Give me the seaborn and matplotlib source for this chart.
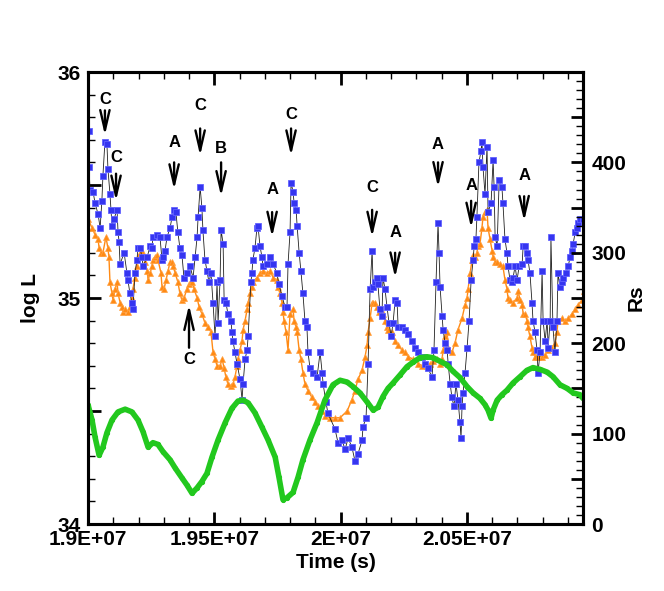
import numpy as np
import pandas as pd
import seaborn as sns
import matplotlib.pyplot as plt
from matplotlib.ticker import MultipleLocator, FuncFormatter

# Zeit in Einheiten von 1e7 s, log L (linke Achse)
blue_t = [1.9004, 1.9004, 1.9008, 1.9020, 1.9028, 1.9040, 1.9048, 1.9055, 1.9059, 1.9067,
          1.9075, 1.9079, 1.9087, 1.9091, 1.9095, 1.9103, 1.9115, 1.9119, 1.9123, 1.9127,
          1.9143, 1.9154, 1.9158, 1.9166, 1.9174, 1.9178, 1.9186, 1.9194, 1.9198, 1.9206,
          1.9214, 1.9218, 1.9234, 1.9246, 1.9253, 1.9257, 1.9273, 1.9285, 1.9293, 1.9297,
          1.9305, 1.9313, 1.9325, 1.9333, 1.9341, 1.9348, 1.9356, 1.9364, 1.9372, 1.9380,
          1.9392, 1.9404, 1.9416, 1.9424, 1.9432, 1.9436, 1.9444, 1.9451, 1.9455, 1.9463,
          1.9471, 1.9479, 1.9487, 1.9495, 1.9503, 1.9511, 1.9515, 1.9523, 1.9527, 1.9535,
          1.9539, 1.9546, 1.9554, 1.9566, 1.9570, 1.9574, 1.9582, 1.9590, 1.9602, 1.9610,
          1.9614, 1.9622, 1.9630, 1.9634, 1.9645, 1.9649, 1.9653, 1.9661, 1.9669, 1.9673,
          1.9681, 1.9689, 1.9693, 1.9709, 1.9721, 1.9733, 1.9748, 1.9756, 1.9768, 1.9780,
          1.9788, 1.9792, 1.9800, 1.9804, 1.9812, 1.9816, 1.9824, 1.9828, 1.9836, 1.9843,
          1.9851, 1.9859, 1.9867, 1.9871, 1.9879, 1.9891, 1.9907, 1.9919, 1.9927, 1.9931,
          1.9942, 1.9950, 1.9978, 1.9990, 2.0006, 2.0018, 2.0030, 2.0045, 2.0057, 2.0069,
          2.0085, 2.0089, 2.0101, 2.0109, 2.0117, 2.0125, 2.0129, 2.0137, 2.0144, 2.0148,
          2.0156, 2.0164, 2.0168, 2.0176, 2.0184, 2.0192, 2.0200, 2.0208, 2.0216, 2.0224,
          2.0228, 2.0243, 2.0255, 2.0267, 2.0283, 2.0295, 2.0307, 2.0323, 2.0335, 2.0346,
          2.0362, 2.0370, 2.0378, 2.0386, 2.0390, 2.0394, 2.0402, 2.0406, 2.0414, 2.0422,
          2.0426, 2.0434, 2.0441, 2.0449, 2.0457, 2.0465, 2.0473, 2.0477, 2.0481, 2.0485,
          2.0493, 2.0501, 2.0509, 2.0517, 2.0525, 2.0529, 2.0536, 2.0540, 2.0548, 2.0556,
          2.0560, 2.0564, 2.0572, 2.0580, 2.0584, 2.0596, 2.0604, 2.0608, 2.0612, 2.0620,
          2.0628, 2.0639, 2.0643, 2.0651, 2.0659, 2.0663, 2.0671, 2.0679, 2.0683, 2.0691,
          2.0699, 2.0707, 2.0719, 2.0723, 2.0731, 2.0738, 2.0742, 2.0750, 2.0758, 2.0762,
          2.0770, 2.0778, 2.0782, 2.0790, 2.0798, 2.0802, 2.0810, 2.0818, 2.0822, 2.0830,
          2.0833, 2.0841, 2.0849, 2.0857, 2.0861, 2.0869, 2.0877, 2.0881, 2.0893, 2.0901,
          2.0909, 2.0917, 2.0921, 2.0929, 2.0936, 2.0940, 2.0948, 2.0960]
blue_logL = [35.74, 35.58, 35.48, 35.47, 35.42, 35.37, 35.31, 35.43, 35.54, 35.69,
             35.68, 35.57, 35.46, 35.39, 35.32, 35.35, 35.39, 35.29, 35.25, 35.15,
             35.20, 35.11, 35.08, 35.02, 34.98, 34.95, 35.11, 35.17, 35.22, 35.22,
             35.18, 35.14, 35.18, 35.23, 35.22, 35.27, 35.28, 35.27, 35.17, 35.18,
             35.21, 35.27, 35.31, 35.36, 35.39, 35.38, 35.29, 35.22, 35.19, 35.09,
             35.11, 35.14, 35.09, 35.18, 35.27, 35.36, 35.49, 35.40, 35.30, 35.17,
             35.12, 35.07, 35.11, 34.98, 34.83, 35.07, 34.89, 35.08, 35.30, 35.24,
             34.99, 34.98, 34.93, 34.90, 34.85, 34.81, 34.76, 34.71, 34.64, 34.55,
             34.62, 34.73, 34.77, 34.83, 35.07, 35.11, 35.17, 35.22, 35.31, 35.32,
             35.23, 35.18, 35.14, 35.15, 35.18, 35.15, 35.11, 35.06, 35.01, 34.96,
             34.96, 35.15, 35.29, 35.51, 35.47, 35.42, 35.39, 35.32, 35.20, 35.12,
             35.02, 34.90, 34.87, 34.76, 34.69, 34.67, 34.65, 34.76, 34.67, 34.62,
             34.54, 34.49, 34.42, 34.36, 34.37, 34.33, 34.38, 34.34, 34.28, 34.31,
             34.37, 34.43, 34.47, 34.71, 35.04, 35.21, 35.05, 35.07, 35.09, 35.06,
             34.95, 34.92, 35.09, 35.04, 34.96, 34.89, 34.83, 34.89, 34.99, 34.98,
             34.87, 34.87, 34.86, 34.84, 34.81, 34.78, 34.76, 34.74, 34.71, 34.69,
             34.65, 34.77, 35.07, 35.33, 35.20, 35.05, 34.92, 34.86, 34.80, 34.77,
             34.71, 34.62, 34.56, 34.52, 34.62, 34.55, 34.45, 34.38, 34.52, 34.58,
             34.67, 34.78, 34.90, 35.08, 35.17, 35.23, 35.26, 35.36, 35.60, 35.65,
             35.69, 35.58, 35.46, 35.67, 35.38, 35.42, 35.61, 35.49, 35.27, 35.23,
             35.52, 35.49, 35.42, 35.26, 35.20, 35.14, 35.08, 35.07, 35.09, 35.14,
             35.08, 35.14, 35.15, 35.23, 35.23, 35.20, 35.17, 35.11, 34.98, 34.90,
             34.85, 34.77, 34.67, 34.76, 35.12, 34.90, 34.81, 34.90, 34.78, 34.90,
             35.27, 34.87, 34.76, 34.90, 35.11, 35.05, 35.07, 35.09, 35.11, 35.14,
             35.18, 35.21, 35.24, 35.29, 35.31, 35.33, 35.35, 35.35]

orange_t = [1.9000, 1.9016, 1.9028, 1.9040, 1.9044, 1.9051, 1.9059, 1.9071, 1.9079, 1.9083,
            1.9087, 1.9095, 1.9099, 1.9107, 1.9115, 1.9119, 1.9127, 1.9135, 1.9139, 1.9147,
            1.9158, 1.9166, 1.9174, 1.9178, 1.9186, 1.9194, 1.9198, 1.9206, 1.9214, 1.9218,
            1.9226, 1.9234, 1.9238, 1.9246, 1.9253, 1.9257, 1.9265, 1.9273, 1.9277, 1.9289,
            1.9293, 1.9301, 1.9309, 1.9317, 1.9325, 1.9333, 1.9337, 1.9345, 1.9356, 1.9364,
            1.9372, 1.9380, 1.9392, 1.9400, 1.9408, 1.9412, 1.9420, 1.9432, 1.9440, 1.9451,
            1.9463, 1.9475, 1.9487, 1.9495, 1.9503, 1.9511, 1.9523, 1.9531, 1.9539, 1.9546,
            1.9554, 1.9566, 1.9574, 1.9582, 1.9590, 1.9594, 1.9602, 1.9610, 1.9614, 1.9622,
            1.9630, 1.9634, 1.9642, 1.9649, 1.9653, 1.9669, 1.9681, 1.9693, 1.9709, 1.9721,
            1.9733, 1.9748, 1.9752, 1.9760, 1.9768, 1.9772, 1.9776, 1.9784, 1.9792, 1.9800,
            1.9812, 1.9816, 1.9824, 1.9828, 1.9836, 1.9843, 1.9851, 1.9859, 1.9871, 1.9887,
            1.9899, 1.9911, 1.9927, 1.9939, 1.9958, 1.9978, 1.9998, 2.0026, 2.0045, 2.0057,
            2.0069, 2.0085, 2.0097, 2.0105, 2.0109, 2.0117, 2.0125, 2.0129, 2.0137, 2.0144,
            2.0152, 2.0160, 2.0168, 2.0176, 2.0184, 2.0188, 2.0204, 2.0216, 2.0228, 2.0243,
            2.0255, 2.0267, 2.0287, 2.0307, 2.0323, 2.0342, 2.0354, 2.0366, 2.0382, 2.0394,
            2.0402, 2.0406, 2.0414, 2.0422, 2.0426, 2.0441, 2.0453, 2.0465, 2.0481, 2.0493,
            2.0501, 2.0505, 2.0513, 2.0521, 2.0525, 2.0533, 2.0540, 2.0544, 2.0552, 2.0560,
            2.0564, 2.0572, 2.0580, 2.0584, 2.0592, 2.0600, 2.0604, 2.0612, 2.0620, 2.0632,
            2.0643, 2.0651, 2.0659, 2.0663, 2.0671, 2.0683, 2.0699, 2.0703, 2.0711, 2.0719,
            2.0723, 2.0731, 2.0738, 2.0742, 2.0750, 2.0758, 2.0762, 2.0770, 2.0782, 2.0798,
            2.0810, 2.0822, 2.0837, 2.0849, 2.0857, 2.0861, 2.0877, 2.0889, 2.0901, 2.0917,
            2.0929, 2.0940, 2.0956, 2.0964]
orange_logL = [35.35, 35.31, 35.28, 35.26, 35.22, 35.20, 35.20, 35.27, 35.22, 35.18,
               35.07, 35.02, 34.99, 35.04, 35.07, 35.02, 34.98, 34.96, 34.94, 34.95,
               34.94, 34.96, 35.00, 35.04, 35.09, 35.14, 35.18, 35.20, 35.21, 35.18,
               35.16, 35.12, 35.08, 35.11, 35.14, 35.17, 35.18, 35.19, 35.17, 35.11,
               35.05, 35.04, 35.08, 35.12, 35.16, 35.16, 35.14, 35.11, 35.07, 35.02,
               34.99, 35.00, 35.04, 35.06, 35.07, 35.07, 35.04, 35.00, 34.96, 34.93,
               34.89, 34.87, 34.85, 34.76, 34.73, 34.70, 34.70, 34.73, 34.69, 34.65,
               34.62, 34.61, 34.62, 34.65, 34.70, 34.73, 34.77, 34.81, 34.86, 34.90,
               34.95, 34.98, 35.02, 35.05, 35.07, 35.09, 35.11, 35.12, 35.11, 35.12,
               35.09, 35.08, 35.05, 35.02, 34.98, 34.94, 34.90, 34.85, 34.77, 34.93,
               34.95, 34.90, 34.87, 34.85, 34.77, 34.73, 34.67, 34.62, 34.59, 34.56,
               34.54, 34.52, 34.50, 34.48, 34.47, 34.47, 34.47, 34.50, 34.55, 34.59,
               34.64, 34.68, 34.74, 34.79, 34.85, 34.91, 34.98, 34.98, 34.98, 34.96,
               34.94, 34.95, 34.93, 34.90, 34.87, 34.86, 34.85, 34.81, 34.79, 34.77,
               34.76, 34.74, 34.73, 34.71, 34.70, 34.70, 34.71, 34.72, 34.73, 34.71,
               34.73, 34.77, 34.83, 34.85, 34.78, 34.76, 34.80, 34.86, 34.91, 34.97,
               35.00, 35.04, 35.11, 35.17, 35.19, 35.18, 35.20, 35.23, 35.24, 35.31,
               35.36, 35.38, 35.39, 35.31, 35.26, 35.21, 35.18, 35.16, 35.16, 35.15,
               35.14, 35.08, 35.04, 35.00, 34.99, 34.98, 35.00, 35.03, 34.99, 34.97,
               34.93, 34.93, 34.90, 34.87, 34.83, 34.78, 34.76, 34.74, 34.74, 34.74,
               34.75, 34.77, 34.78, 34.80, 34.85, 34.90, 34.91, 34.90, 34.91, 34.93,
               34.95, 34.97, 34.99, 35.03]

# Rs (rechte Achse)
green_t = [1.9000, 1.9016, 1.9028, 1.9044, 1.9059, 1.9075, 1.9095, 1.9119, 1.9147, 1.9174,
           1.9198, 1.9218, 1.9238, 1.9257, 1.9277, 1.9297, 1.9325, 1.9345, 1.9372, 1.9392,
           1.9412, 1.9432, 1.9451, 1.9471, 1.9491, 1.9515, 1.9543, 1.9570, 1.9594, 1.9614,
           1.9634, 1.9661, 1.9689, 1.9713, 1.9741, 1.9756, 1.9772, 1.9788, 1.9812, 1.9832,
           1.9851, 1.9879, 1.9907, 1.9938, 1.9970, 1.9998, 2.0026, 2.0049, 2.0077, 2.0105,
           2.0129, 2.0148, 2.0168, 2.0188, 2.0208, 2.0236, 2.0263, 2.0287, 2.0315, 2.0342,
           2.0366, 2.0394, 2.0422, 2.0445, 2.0473, 2.0501, 2.0525, 2.0552, 2.0572, 2.0584,
           2.0596, 2.0604, 2.0620, 2.0639, 2.0659, 2.0683, 2.0711, 2.0738, 2.0762, 2.0790,
           2.0818, 2.0841, 2.0869, 2.0897, 2.0921, 2.0948, 2.0960]
green_rs = [132, 115, 96, 76, 85, 101, 115, 124, 127, 124,
            115, 102, 85, 90, 88, 80, 71, 62, 51, 43,
            34, 40, 47, 56, 74, 93, 112, 128, 136, 137,
            134, 123, 107, 93, 74, 52, 27, 29, 35, 52,
            71, 93, 112, 137, 154, 159, 157, 152, 145, 135,
            126, 129, 141, 150, 156, 165, 174, 179, 184, 185,
            184, 180, 176, 169, 162, 152, 145, 139, 132, 126,
            117, 126, 137, 143, 148, 156, 163, 170, 173, 171,
            168, 163, 154, 150, 145, 143, 139]

# Pfeile: Buchstabe, Zeit, Spitze, Ende, Textposition (log L)
arrow_labels = ['C', 'C', 'A', 'C', 'B', 'A', 'C', 'C', 'C', 'A', 'A', 'A', 'A']
arrow_t = [1.9067, 1.9111, 1.9341, 1.9444, 1.9527, 1.9729, 1.9804, 1.9400, 2.0125, 2.0216, 2.0386, 2.0517, 2.0727]
arrow_tip = [35.72, 35.43, 35.48, 35.63, 35.45, 35.27, 35.63, 34.97, 35.27, 35.09, 35.49, 35.31, 35.34]
arrow_tail = [35.83, 35.55, 35.60, 35.75, 35.60, 35.38, 35.75, 34.78, 35.39, 35.20, 35.60, 35.43, 35.45]
label_y = [35.88, 35.62, 35.69, 35.85, 35.66, 35.48, 35.81, 34.73, 35.49, 35.29, 35.68, 35.50, 35.54]

blue = pd.DataFrame({'t': np.array(blue_t) * 1e7, 'logL': blue_logL})
orange = pd.DataFrame({'t': np.array(orange_t) * 1e7, 'logL': orange_logL})
green = pd.DataFrame({'t': np.array(green_t) * 1e7, 'Rs': green_rs})

sns.set_style('ticks')
plt.rcParams['font.family'] = ['Liberation Sans', 'DejaVu Sans']
plt.rcParams['font.weight'] = 'bold'
plt.rcParams['axes.labelweight'] = 'bold'
plt.rcParams['axes.edgecolor'] = 'black'
plt.rcParams['axes.labelcolor'] = 'black'
plt.rcParams['text.color'] = 'black'
plt.rcParams['xtick.color'] = 'black'
plt.rcParams['ytick.color'] = 'black'

fig = plt.figure(figsize=(6.64, 5.91), dpi=100)
ax = fig.add_axes([88 / 664, 67 / 591, 495 / 664, 452 / 591])

sns.lineplot(data=orange, x='t', y='logL', ax=ax, estimator=None, sort=False,
             color='#ff8a14', lw=1.0, marker='^', markersize=5,
             markerfacecolor='#ff8a14', markeredgecolor='#ffa040', markeredgewidth=0.5, zorder=2)
sns.lineplot(data=blue, x='t', y='logL', ax=ax, estimator=None, sort=False,
             color='#202020', lw=0.6, marker='s', markersize=4.8,
             markerfacecolor='#3535f0', markeredgecolor='#6262ff', markeredgewidth=0.6, zorder=3)

ax2 = ax.twinx()
sns.lineplot(data=green, x='t', y='Rs', ax=ax2, estimator=None, sort=False,
             color='#22c81e', lw=4, marker='o', markersize=3,
             markerfacecolor='#22c81e', markeredgecolor='#22c81e', zorder=2)

for lab, t, tip, tail, ty in zip(arrow_labels, arrow_t, arrow_tip, arrow_tail, label_y):
    ax.annotate('', xy=(t * 1e7, tip), xytext=(t * 1e7, tail),
                arrowprops=dict(arrowstyle='->,head_length=1.2,head_width=0.28', color='black',
                                lw=1.7, shrinkA=0, shrinkB=0, mutation_scale=12))
    ax.text(t * 1e7, ty, lab, ha='center', va='center', fontsize=12, fontweight='bold', color='black')

ax.set_xlim(1.9e7, 2.096e7)
ax.set_ylim(34, 36)
ax2.set_ylim(0, 500)

ax.xaxis.set_major_locator(MultipleLocator(5e5))
ax.xaxis.set_minor_locator(MultipleLocator(1e5))
ax.xaxis.set_major_formatter(FuncFormatter(lambda v, p: f"{v / 1e7:g}E+07"))
ax.yaxis.set_major_locator(MultipleLocator(0.5))
ax.yaxis.set_minor_locator(MultipleLocator(0.1))
ax.yaxis.set_major_formatter(FuncFormatter(lambda v, p: f"{v:.0f}" if abs(v - round(v)) < 1e-6 else ""))
ax2.yaxis.set_major_locator(MultipleLocator(50))
ax2.yaxis.set_minor_locator(MultipleLocator(10))
ax2.yaxis.set_major_formatter(FuncFormatter(lambda v, p: f"{v:.0f}" if (round(v) % 100 == 0 and v < 450) else ""))

ax.tick_params(axis='both', which='both', direction='in', top=True, right=False, labelsize=15)
ax.tick_params(which='major', length=9, width=2)
ax.tick_params(which='minor', length=5, width=1)
ax.tick_params(axis='x', pad=4)
ax.tick_params(axis='y', pad=5)
ax2.tick_params(axis='y', which='both', direction='in', labelsize=15, pad=6)
ax2.tick_params(which='major', length=9, width=2)
ax2.tick_params(which='minor', length=5, width=1)

for a in (ax, ax2):
    for s in a.spines.values():
        s.set_linewidth(2.2)
        s.set_color('black')

ax.set_xlabel('Time (s)', fontsize=15, fontweight='bold', labelpad=3)
ax.set_ylabel('log L', fontsize=15, fontweight='bold', labelpad=13)
ax2.set_ylabel('Rs', fontsize=15, fontweight='bold', rotation=90, labelpad=0)

fig.savefig('out.png', dpi=100)
